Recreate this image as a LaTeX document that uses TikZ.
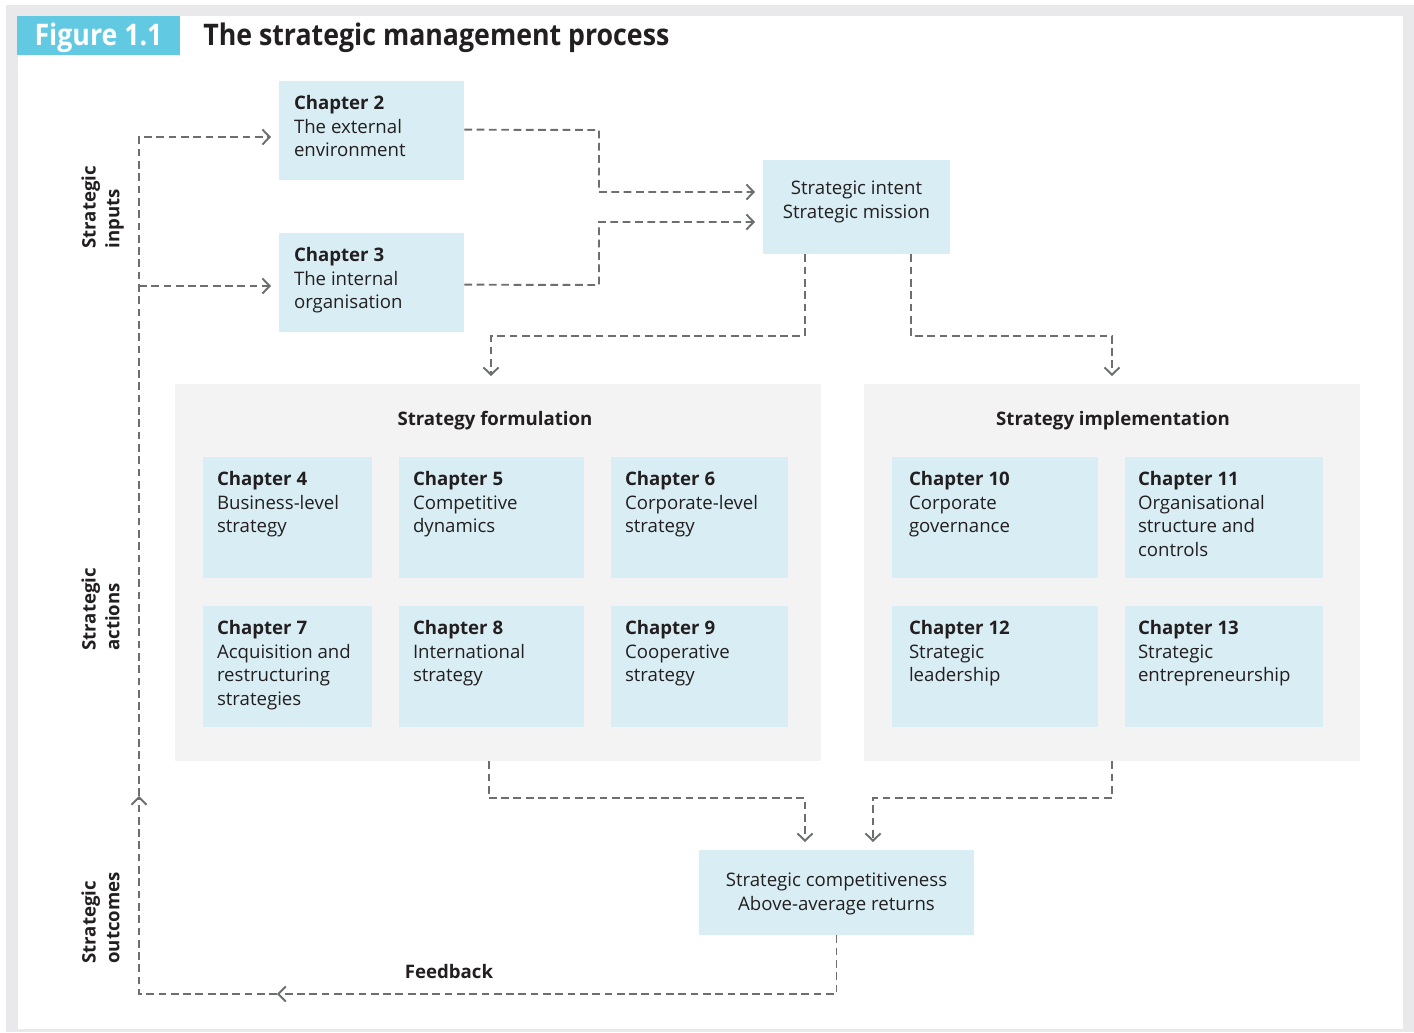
\documentclass[tikz,border=0pt]{standalone}
\usepackage{fontspec}
\setmainfont{Open Sans}
\newfontfamily\titlefont[FakeStretch=0.9]{Open Sans}
\usetikzlibrary{arrows.meta,positioning,fit,calc}
\definecolor{figcyan}{HTML}{62C9E3}
\definecolor{boxblue}{HTML}{D9EEF4}
\definecolor{panelgrey}{HTML}{F3F3F3}
\definecolor{framegrey}{HTML}{E9E9EB}
\definecolor{linegrey}{HTML}{6D6E70}
\definecolor{txt}{HTML}{231F20}
\newcommand\chapbox[8][14]{%
  \node[box, fit={(#3,#4)(#5,#6)}] (#2) {};
  \node[btext] (#2t) at ($(#2.north west)+(#1,14)$) {\textbf{#7}\\#8};
}
\begin{document}
\begin{tikzpicture}[x=0.02cm,y=-0.02cm,
  font=\fontsize{10.6}{13.6}\selectfont, text=txt,
  box/.style={fill=boxblue, draw=none, inner sep=0},
  panel/.style={fill=panelgrey, draw=none, inner sep=0},
  link/.style={draw=linegrey, line width=1.1pt, dash pattern=on 4.4pt off 2.6pt},
  flow/.style={link, -{Straight Barb[length=4.2pt,width=8.6pt,line width=1.1pt]}},
  gap/.style={shorten >=4.5pt},
  btext/.style={anchor=north west, align=left, inner sep=0},
  vlabel/.style={rotate=90, anchor=north west, align=left, inner sep=0, font=\fontsize{10.6}{13.6}\selectfont\bfseries},
  ptitle/.style={inner sep=0, font=\fontsize{10.6}{13.6}\selectfont\bfseries}]
% frame
\fill[white] (0,0) rectangle (1414,1032);
\fill[framegrey] (6,5) rectangle (1414,1032);
\fill[white] (18,16) rectangle (1403,1029);
\useasboundingbox (0,0) rectangle (1414,1032);
% heading
\node[fill=figcyan, fit={(17,16)(180,55)}, inner sep=0] (figlab) {};
\node[text=white, inner sep=0, font=\titlefont\fontsize{16.9}{18}\selectfont\bfseries, anchor=base] (figlabt) at (98.5,45) {Figure 1.1};
\node[anchor=base west, inner sep=0, font=\titlefont\fontsize{16.9}{18}\selectfont\bfseries] (title) at (203,45) {The strategic management process};
% vertical labels
\node[vlabel] (lin) at (81,249) {Strategic\\inputs};
\node[vlabel] (lact) at (81,651) {Strategic\\actions};
\node[vlabel] (lout) at (81,964) {Strategic\\outcomes};
% inputs
\chapbox[15]{ch2}{279}{81}{464}{180}{Chapter 2}{The external\\environment}
\chapbox[15]{ch3}{279}{233}{464}{332}{Chapter 3}{The internal\\organisation}
% intent
\node[box, fit={(763,160)(950,254)}] (intent) {};
\node[align=center, inner sep=0] (intentt) at ($(intent.center)+(0,-5)$) {Strategic intent\\Strategic mission};
% panels
\node[panel, fit={(175,384)(821,761)}] (form) {};
\node[ptitle] (formt) at (495,421) {Strategy formulation};
\node[panel, fit={(864,384)(1360,761)}] (impl) {};
\node[ptitle] (implt) at (1113,421) {Strategy implementation};
\chapbox{ch4}{203}{457}{372}{578}{Chapter 4}{Business-level\\strategy}
\chapbox{ch5}{399}{457}{584}{578}{Chapter 5}{Competitive\\dynamics}
\chapbox{ch6}{611}{457}{788}{578}{Chapter 6}{Corporate-level\\strategy}
\chapbox{ch7}{203}{606}{372}{727}{Chapter 7}{Acquisition and\\restructuring\\strategies}
\chapbox{ch8}{399}{606}{584}{727}{Chapter 8}{International\\strategy}
\chapbox{ch9}{611}{606}{788}{727}{Chapter 9}{Cooperative\\strategy}
\chapbox[17]{ch10}{892}{457}{1098}{578}{Chapter 10}{Corporate\\governance}
\chapbox[13]{ch11}{1125}{457}{1323}{578}{Chapter 11}{Organisational\\structure and\\controls}
\chapbox[17]{ch12}{892}{606}{1098}{727}{Chapter 12}{Strategic\\leadership}
\chapbox[13]{ch13}{1125}{606}{1323}{727}{Chapter 13}{Strategic\\entrepreneurship}
% outcome
\node[box, fit={(699,850)(974,935)}] (outc) {};
\node[align=center, inner sep=0] (outct) at ($(outc.center)+(0,1.5)$) {Strategic competitiveness\\Above-average returns};
\node[ptitle] (fbt) at (449,972) {Feedback};
% coordinates
\coordinate (ch2out) at ($(ch2.north east)+(0,49)$);
\coordinate (ch3out) at ($(ch3.north east)+(0,52)$);
\coordinate (ch2in) at (279,137);
\coordinate (ch3in) at (279,286);
\coordinate (br) at (139,286);
\coordinate (intin1) at (763,192);
\coordinate (intin2) at (763,222);
\coordinate (intout1) at ($(intent.south west)+(42,0)$);
\coordinate (intout2) at ($(intent.south west)+(148,0)$);
\coordinate (formin) at (491,384);
\coordinate (implin) at (1112,384);
\coordinate (formout) at ($(form.south west)+(314,0)$);
\coordinate (outin1) at (805,850);
\coordinate (outin2) at (873,850);
\coordinate (fbA) at (277,994);
\coordinate (fbB) at (139,796);
% connectors
\draw[flow, gap] (ch2out) -- (599,130) |- (intin1);
\draw[flow, gap] (ch3out) -- (599,285) |- (intin2);
\draw[flow, gap] (intout1) |- (491,336) -- (formin);
\draw[flow, gap] (intout2) |- (1112,336) -- (implin);
\draw[flow, gap] (formout) |- (805,798) -- (outin1);
\draw[flow, gap] (impl.south) |- (873,798) -- (outin2);
\draw[flow] (outc.south) |- (fbA);
\draw[flow] (fbA) -| (fbB);
\draw[flow, gap] (fbB) |- (ch2in);
\draw[flow, gap] (br) -- (ch3in);
\end{tikzpicture}
\end{document}
